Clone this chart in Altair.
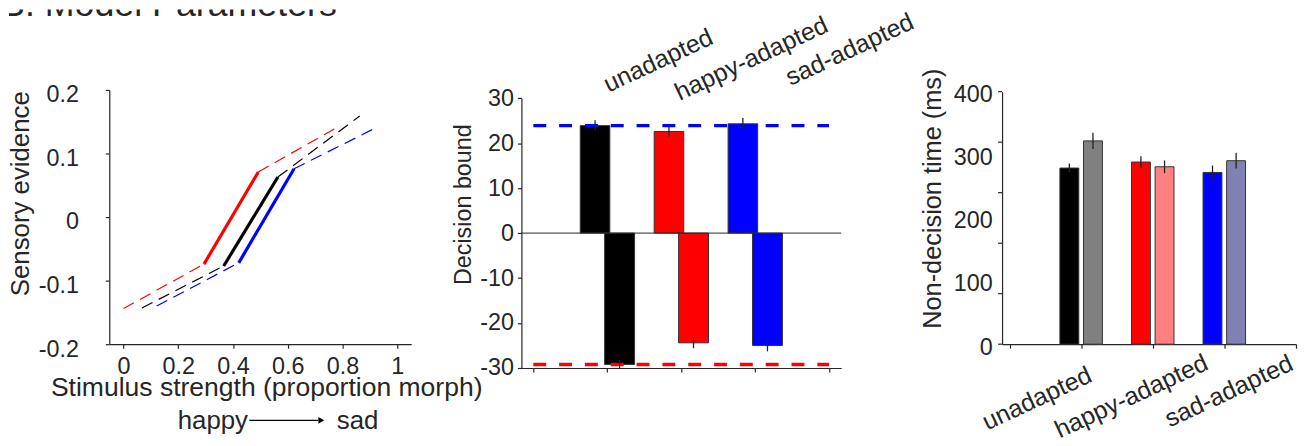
import altair as alt
import pandas as pd

FONT = "Liberation Sans"
INK = "#262626"

# ---------------- data ----------------
conditions = ["unadapted", "happy-adapted", "sad-adapted"]
cond_colors = ["#000000", "#ff0000", "#0000ff"]
cond_colors_light = ["#808080", "#ff8080", "#8080b3"]

# Panel 1: sensory evidence vs stimulus strength (start, kink, kink, end)
unadapted_x = [0.067, 0.366, 0.564, 0.863]
unadapted_y = [-0.143, -0.077, 0.063, 0.159]
happy_x = [0.0, 0.294, 0.4925, 0.784]
happy_y = [-0.144, -0.074, 0.071, 0.142]
sad_x = [0.121, 0.421, 0.623, 0.92]
sad_y = [-0.140, -0.072, 0.076, 0.140]
p1_xticks = [0, 0.2, 0.4, 0.6, 0.8, 1.0]
p1_xlabels = ["0", "0.2", "0.4", "0.6", "0.8", "1"]
p1_yticks = [-0.2, -0.1, 0, 0.1, 0.2]
p1_ylabels = ["-0.2", "-0.1", "0", "0.1", "0.2"]

# Panel 2: decision bounds
bound_upper = [23.9, 22.6, 24.3]
bound_upper_err = [1.2, 1.1, 1.3]
bound_lower = [-29.2, -24.4, -25.0]
bound_lower_err = [1.0, 1.2, 1.3]
ref_upper = 23.9
ref_lower = -29.2
p2_yticks = [-30, -20, -10, 0, 10, 20, 30]
p2_ylabels = ["-30", "-20", "-10", "0", "10", "20", "30"]
p2_xticks = [0, 1, 2, 3, 4]

# Panel 3: non-decision time
ndt_a = [279, 288.5, 272]
ndt_a_err = [7, 9, 11]
ndt_b = [322, 281, 290.6]
ndt_b_err = [13, 10, 12.5]
p3_ylabel_vals = [0, 100, 200, 300, 400]
p3_tickmarks = [0, 80, 160, 240, 320, 400]
p3_xticks = [0, 1, 2, 3, 4]


def lab_expr(vals, labels):
    return ("[" + ",".join("'%s'" % l for l in labels) + "][indexof(["
            + ",".join(repr(float(v)) for v in vals) + "], datum.value)]")


ax_common = dict(grid=False, domainColor=INK, domainWidth=1.2, tickColor=INK,
                 tickWidth=1.2, labelColor=INK, titleColor=INK, labelFont=FONT,
                 titleFont=FONT, titleFontWeight="normal", labelFlush=False,
                 labelOverlap=False)

# ---------------- panel 1 ----------------
rows = []
for cond, xs, ys in zip(conditions, [unadapted_x, happy_x, sad_x],
                        [unadapted_y, happy_y, sad_y]):
    for seg, a, b, style in [("lo", 0, 1, "dash"), ("mid", 1, 2, "solid"),
                             ("hi", 2, 3, "dash")]:
        rows.append(dict(cond=cond, seg=cond + seg, style=style, o=0, x=xs[a], y=ys[a]))
        rows.append(dict(cond=cond, seg=cond + seg, style=style, o=1, x=xs[b], y=ys[b]))
lines_df = pd.DataFrame(rows)

x1s = alt.Scale(domain=[-0.052, 1.051], range=[101, 405], nice=False, zero=False)
y1s = alt.Scale(domain=[-0.2, 0.2], range=[337, 81], nice=False, zero=False)
p1x_axis = alt.Axis(values=p1_xticks, labelExpr=lab_expr(p1_xticks, p1_xlabels),
                    tickSize=4, labelPadding=7, labelFontSize=23.5,
                    title="Stimulus strength (proportion morph)", titleFontSize=26.7,
                    titleX=259, titleY=52, titleAlign="center",
                    titleBaseline="alphabetic", **ax_common)
p1y_axis = alt.Axis(values=p1_yticks, labelExpr=lab_expr(p1_yticks, p1_ylabels),
                    tickSize=4, labelPadding=27, labelOffset=5, labelFontSize=23.5,
                    title="Sensory evidence", titleFontSize=26, titleAngle=270,
                    titleX=-81, titleY=185, titleAlign="center",
                    titleBaseline="alphabetic", offset=-101, **ax_common)
col1 = alt.Color("cond:N", scale=alt.Scale(domain=conditions, range=cond_colors),
                 legend=None)

dashed = alt.Chart(lines_df).transform_filter("datum.style == 'dash'").mark_line(
    strokeDash=[12, 7], strokeWidth=1.2).encode(
    x=alt.X("x:Q", scale=x1s, axis=p1x_axis),
    y=alt.Y("y:Q", scale=y1s, axis=p1y_axis),
    color=col1, detail="seg:N", order="o:Q")
solid = alt.Chart(lines_df).transform_filter("datum.style == 'solid'").mark_line(
    strokeWidth=3.2).encode(
    x=alt.X("x:Q", scale=x1s, axis=p1x_axis),
    y=alt.Y("y:Q", scale=y1s, axis=p1y_axis),
    color=col1, detail="seg:N", order="o:Q")

# figure heading: only its lower part shows, as in the reference (cut at the top)
title = alt.Chart(pd.DataFrame({"t": ["B. Model Parameters"]})).mark_text(
    clip=True, align="left", baseline="alphabetic", fontSize=36, font=FONT,
    color=INK).encode(x=alt.value(-8), y=alt.value(7), text="t:N")

words = alt.Chart(pd.DataFrame({"x": [0.198, 0.779], "t": ["happy", "sad"]})).mark_text(
    align="left", baseline="alphabetic", fontSize=26, font=FONT, color=INK).encode(
    x=alt.X("x:Q", scale=x1s, axis=p1x_axis), y=alt.value(422), text="t:N")
arrow = alt.Chart(pd.DataFrame({"x": [0.4596], "x2": [0.712]})).mark_rule(
    color="black", strokeWidth=1.2).encode(
    x=alt.X("x:Q", scale=x1s, axis=p1x_axis), x2="x2:Q", y=alt.value(413.7))
head = alt.Chart(pd.DataFrame({"x": [0.7225]})).mark_point(
    shape="triangle-right", filled=True, size=45, color="black", opacity=1).encode(
    x=alt.X("x:Q", scale=x1s, axis=p1x_axis), y=alt.value(413.7))

p1 = alt.layer(dashed, solid, title, words, arrow, head).properties(width=405, height=337)

# ---------------- panel 2 ----------------
x2s = alt.Scale(domain=[-0.161, 4.165], range=[0, 322], nice=False, zero=False)
y2s = alt.Scale(domain=[-30, 30], range=[361, 89.3], nice=False, zero=False)
p2x_axis = alt.Axis(values=p2_xticks, labels=False, tickSize=4, title="", **ax_common)
p2y_axis = alt.Axis(values=p2_yticks, labelExpr=lab_expr(p2_yticks, p2_ylabels),
                    tickSize=4, labelPadding=4, labelFontSize=23.5,
                    title="Decision bound", titleFontSize=23.5, titleAngle=270,
                    titleX=-51, titleY=196, titleAlign="center",
                    titleBaseline="alphabetic", **ax_common)

brows = []
for i, c in enumerate(conditions):
    g = i + 1
    brows.append(dict(cond=c, x0=g - 0.365, x1=g + 0.035, y0=0, y1=bound_upper[i],
                      lo=bound_upper[i] - bound_upper_err[i],
                      hi=bound_upper[i] + bound_upper_err[i]))
    brows.append(dict(cond=c, x0=g - 0.035, x1=g + 0.37, y0=0, y1=bound_lower[i],
                      lo=bound_lower[i] - bound_lower_err[i],
                      hi=bound_lower[i] + bound_lower_err[i]))
b_df = pd.DataFrame(brows)
b_df["xc"] = (b_df["x0"] + b_df["x1"]) / 2

bars2 = alt.Chart(b_df).mark_bar(stroke="#333333", strokeWidth=1).encode(
    x=alt.X("x0:Q", scale=x2s, axis=p2x_axis), x2="x1:Q",
    y=alt.Y("y0:Q", scale=y2s, axis=p2y_axis), y2="y1:Q",
    fill=alt.Fill("cond:N", scale=alt.Scale(domain=conditions, range=cond_colors),
                  legend=None))
err2 = alt.Chart(b_df).mark_rule(color="#222222", strokeWidth=1.3).encode(
    x=alt.X("xc:Q", scale=x2s, axis=p2x_axis),
    y=alt.Y("lo:Q", scale=y2s, axis=p2y_axis), y2="hi:Q")
zero2 = alt.Chart(pd.DataFrame({"y": [0]})).mark_rule(color=INK, strokeWidth=1).encode(
    y=alt.Y("y:Q", scale=y2s, axis=p2y_axis), x=alt.value(0), x2=alt.value(322))
ref2 = alt.Chart(pd.DataFrame({"y": [ref_upper, ref_lower], "x0": [0, 0], "x1": [4, 4],
                               "c": ["sad-adapted", "happy-adapted"]})).mark_rule(
    strokeDash=[13, 13], strokeWidth=3.5, strokeCap="butt").encode(
    x=alt.X("x0:Q", scale=x2s, axis=p2x_axis), x2="x1:Q",
    y=alt.Y("y:Q", scale=y2s, axis=p2y_axis),
    color=alt.Color("c:N", scale=alt.Scale(domain=conditions, range=cond_colors),
                    legend=None))


def cat_label(text, xval, ypix, xscale, xaxis):
    return alt.Chart(pd.DataFrame({"x": [xval], "t": [text]})).mark_text(
        align="left", baseline="alphabetic", angle=335, fontSize=25, font=FONT,
        color=INK).encode(x=alt.X("x:Q", scale=xscale, axis=xaxis),
                          y=alt.value(ypix), text="t:N")


lab2 = [cat_label(conditions[0], 1.018, 83.7, x2s, p2x_axis),
        cat_label(conditions[1], 1.98, 92, x2s, p2x_axis),
        cat_label(conditions[2], 3.48, 77, x2s, p2x_axis)]

p2 = alt.layer(bars2, zero2, ref2, err2, *lab2).properties(width=373, height=361)

# ---------------- panel 3 ----------------
x3s = alt.Scale(domain=[-0.107, 4.0], nice=False, zero=False)
y3s = alt.Scale(domain=[0, 400], range=[337, 82.7], nice=False, zero=False)
p3x_axis = alt.Axis(values=p3_xticks, labels=False, tickSize=4, title="", **ax_common)
p3y_axis = alt.Axis(values=p3_ylabel_vals, ticks=False, tickSize=0, labelPadding=10,
                    labelOffset=3, labelFontSize=23.5,
                    title="Non-decision time (ms)", titleFontSize=25.5, titleAngle=270,
                    titleX=-61.5, titleY=190, titleAlign="center",
                    titleBaseline="alphabetic", **ax_common)

rows3 = []
half = 0.132
for i, c in enumerate(conditions):
    g = i + 1
    for k, (vals, errs, cols, off) in enumerate([(ndt_a, ndt_a_err, cond_colors, -0.167),
                                                 (ndt_b, ndt_b_err, cond_colors_light, 0.163)]):
        rows3.append(dict(bid=f"{c}-{k}", col=cols[i], xc=g + off, x0=g + off - half,
                          x1=g + off + half, v=vals[i], lo=vals[i] - errs[i],
                          hi=vals[i] + errs[i], base=0))
n_df = pd.DataFrame(rows3)

bars3 = alt.Chart(n_df).mark_bar(stroke="#333333", strokeWidth=1).encode(
    x=alt.X("x0:Q", scale=x3s, axis=p3x_axis), x2="x1:Q",
    y=alt.Y("base:Q", scale=y3s, axis=p3y_axis), y2="v:Q",
    fill=alt.Fill("bid:N", scale=alt.Scale(domain=list(n_df["bid"]),
                                           range=list(n_df["col"])), legend=None))
err3 = alt.Chart(n_df).mark_rule(color="#222222", strokeWidth=1.3).encode(
    x=alt.X("xc:Q", scale=x3s, axis=p3x_axis),
    y=alt.Y("lo:Q", scale=y3s, axis=p3y_axis), y2="hi:Q")
ticks3 = alt.Chart(pd.DataFrame({"t": p3_tickmarks})).mark_rule(
    color=INK, strokeWidth=1.2).encode(
    y=alt.Y("t:Q", scale=y3s, axis=p3y_axis), x=alt.value(-4), x2=alt.value(0))

lab3 = [cat_label(conditions[0], -0.315, 424, x3s, p3x_axis),
        cat_label(conditions[1], 0.698, 432, x3s, p3x_axis),
        cat_label(conditions[2], 2.237, 421, x3s, p3x_axis)]

p3 = alt.layer(bars3, err3, ticks3, *lab3).properties(width=296, height=337)

chart = alt.hconcat(p1, p2, p3, spacing=111, bounds="flush").resolve_scale(
    color="independent", fill="independent"
).properties(
    padding={"left": 0, "top": 0, "right": 0, "bottom": 0}
).configure(font=FONT).configure_view(strokeWidth=0)

chart.save("out.html", embed_options={"renderer": "svg", "actions": False})
